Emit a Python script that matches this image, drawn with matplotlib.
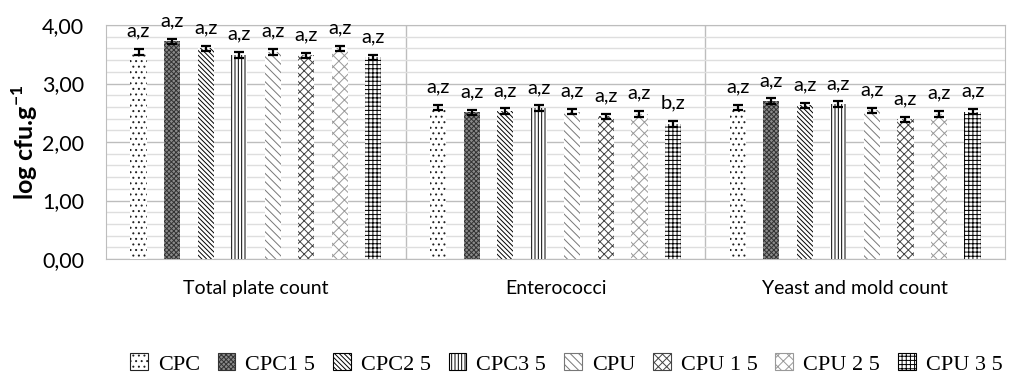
import numpy as np
import matplotlib
matplotlib.use('Agg')
import matplotlib.pyplot as plt
from matplotlib.patches import Patch
from matplotlib.ticker import MultipleLocator, FuncFormatter

# data
categories = ['Total plate count', 'Enterococci', 'Yeast and mold count']
series = ['CPC', 'CPC1 5', 'CPC2 5', 'CPC3 5', 'CPU', 'CPU 1 5', 'CPU 2 5', 'CPU 3 5']

tpc = [3.54, 3.72, 3.60, 3.49, 3.54, 3.48, 3.60, 3.45]
entero = [2.59, 2.51, 2.53, 2.58, 2.52, 2.44, 2.48, 2.31]
yeast = [2.59, 2.70, 2.63, 2.65, 2.54, 2.39, 2.48, 2.52]
err = [0.045, 0.045, 0.045, 0.045, 0.045, 0.045, 0.045, 0.045]

tpc_lab = ['a,z'] * 8
entero_lab = ['a,z'] * 7 + ['b,z']
yeast_lab = ['a,z'] * 8

values = np.array([tpc, entero, yeast])
labels = [tpc_lab, entero_lab, yeast_lab]

# fill patterns (face, hatch, hatch colour)
styles = [
    ('white', '...', '#222222'),
    ('#8a8a8a', 'xxxxxxx', '#333333'),
    ('white', '\\' * 7, 'black'),
    ('white', '|||||', 'black'),
    ('white', '\\' * 4, '#777777'),
    ('white', 'xxxx', '#444444'),
    ('white', 'xxx', '#999999'),
    ('white', '++++', 'black'),
]

plt.rcParams['hatch.linewidth'] = 0.7
plt.rcParams['font.family'] = ['Lato', 'DejaVu Sans']

fig = plt.figure(figsize=(10.11, 3.74), dpi=100)
ax = fig.add_axes([0.105, 0.3075, 0.889, 0.6255])

x = np.arange(len(categories)) + 0.5
slot = 0.112
width = 0.054

for i, name in enumerate(series):
    fc, h, hc = styles[i]
    pos = x + (i - 3.5) * slot
    ax.bar(pos, values[:, i], width, color=fc, hatch=h, edgecolor=hc,
           linewidth=0, zorder=3)
    ax.errorbar(pos, values[:, i], yerr=err[i], fmt='none', ecolor='black',
                elinewidth=1.6, capsize=3.5, capthick=1.6, zorder=4)
    for j in range(len(categories)):
        ax.annotate(labels[j][i], (pos[j], values[j, i] + err[i]),
                    textcoords='offset points', xytext=(0, 9),
                    ha='center', va='baseline', fontsize=14.5,
                    annotation_clip=False)

ax.set_xlim(0, 3)
ax.set_ylim(0, 4)
ax.yaxis.set_major_locator(MultipleLocator(1))
ax.yaxis.set_minor_locator(MultipleLocator(0.2))
ax.yaxis.set_major_formatter(FuncFormatter(lambda v, p: ('%.2f' % v).replace('.', ',')))
ax.grid(which='major', axis='y', color='#bdbdbd', linewidth=1.0, zorder=0)
ax.grid(which='minor', axis='y', color='#dedede', linewidth=1.0, zorder=0)
for xv in [1, 2]:
    ax.axvline(xv, color='#bdbdbd', linewidth=1.0, zorder=0)

ax.set_xticks(x)
ax.set_xticklabels(categories, fontsize=14)
ax.tick_params(axis='x', length=0, pad=15)
ax.tick_params(axis='y', which='both', length=0, pad=16, labelsize=15.5)
for s in ax.spines.values():
    s.set_color('#bdbdbd')

ax.set_ylabel('log cfu.g$^{\\mathregular{-1}}$', fontsize=18, fontweight='bold', labelpad=1)

handles = [Patch(facecolor=st[0], hatch=st[1], edgecolor=st[2], linewidth=0.8)
           for st in styles]
leg = fig.legend(handles, series, loc='lower center', ncol=8, frameon=False,
                 bbox_to_anchor=(0.56, -0.055), handlelength=0.8, handleheight=0.8,
                 handletextpad=0.45, columnspacing=0.8,
                 prop={'family': 'Liberation Serif', 'size': 16})

fig.savefig('out.png', dpi=100)
